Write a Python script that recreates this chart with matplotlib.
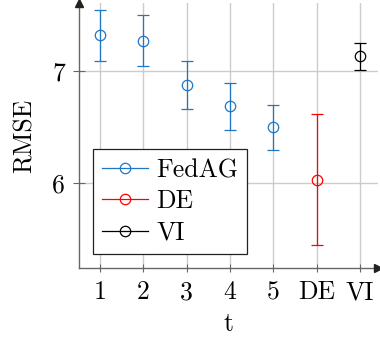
import matplotlib
matplotlib.use("Agg")
import matplotlib.pyplot as plt
from matplotlib.lines import Line2D

plt.rcParams["font.family"] = ["cmr10", "DejaVu Serif"]
plt.rcParams["axes.formatter.use_mathtext"] = True

# RMSE (mean and error half-width) per method
tick_labels = ["1", "2", "3", "4", "5", "DE", "VI"]
fedag_t = [1, 2, 3, 4, 5]
fedag_mean = [7.32, 7.275, 6.88, 6.685, 6.50]
fedag_err = [0.23, 0.225, 0.215, 0.21, 0.20]
de_mean = [6.03]
de_err = [0.585]
vi_mean = [7.135]
vi_err = [0.12]

series = [
    ("FedAG", fedag_t, fedag_mean, fedag_err, "#1f77c4"),
    ("DE", [6], de_mean, de_err, "#ff0000"),
    ("VI", [7], vi_mean, vi_err, "#000000"),
]

fig = plt.figure(figsize=(3.8, 3.4), dpi=100)
ax = fig.add_axes([0.208, 0.212, 0.787, 0.779])

handles = []
for name, xs, ys, es, col in series:
    ax.errorbar(xs, ys, yerr=es, fmt="o", color=col, mfc="none", mec=col,
                ms=7.5, mew=0.9, elinewidth=0.9, capsize=4, capthick=0.9,
                zorder=3)
    handles.append(Line2D([], [], color=col, lw=0.9, marker="o", mfc="none",
                          mec=col, ms=7.5, mew=0.9))

ax.set_xlim(0.515, 7.42)
ax.set_ylim(5.241, 7.61)
ax.set_xticks(range(1, 8))
ax.set_xticklabels(tick_labels)
ax.set_yticks([6, 7])
ax.set_yticklabels(["6", "7"])

ax.grid(True, color="#cccccc", lw=1.0, zorder=0)
ax.set_axisbelow(True)

for s in ("top", "right"):
    ax.spines[s].set_visible(False)
for s in ("left", "bottom"):
    ax.spines[s].set_color("#666666")
    ax.spines[s].set_linewidth(1.0)

ax.tick_params(axis="x", direction="inout", length=6, width=0.8,
               color="#666666", labelsize=18.5, pad=6)
ax.tick_params(axis="y", direction="inout", length=8, width=0.8,
               color="#666666", labelsize=18.5, pad=6)

# arrow heads at the ends of the axes
ax.plot(1, 0, marker=">", color="#222222", ms=6, transform=ax.transAxes,
        clip_on=False, zorder=5)
ax.plot(0, 1, marker="^", color="#222222", ms=6, transform=ax.transAxes,
        clip_on=False, zorder=5)

ax.set_xlabel("t", fontsize=18.5, labelpad=6)
ax.set_ylabel("RMSE", fontsize=18.5, labelpad=11)

leg = ax.legend(handles, [s[0] for s in series], loc="lower left",
                bbox_to_anchor=(0.047, 0.053), fontsize=18.5, frameon=True,
                fancybox=False, edgecolor="#222222", framealpha=1,
                handlelength=1.8, handletextpad=0.3, labelspacing=0.3,
                borderpad=0.35, borderaxespad=0)
leg.get_frame().set_linewidth(0.9)

fig.savefig("out.png", dpi=100)
